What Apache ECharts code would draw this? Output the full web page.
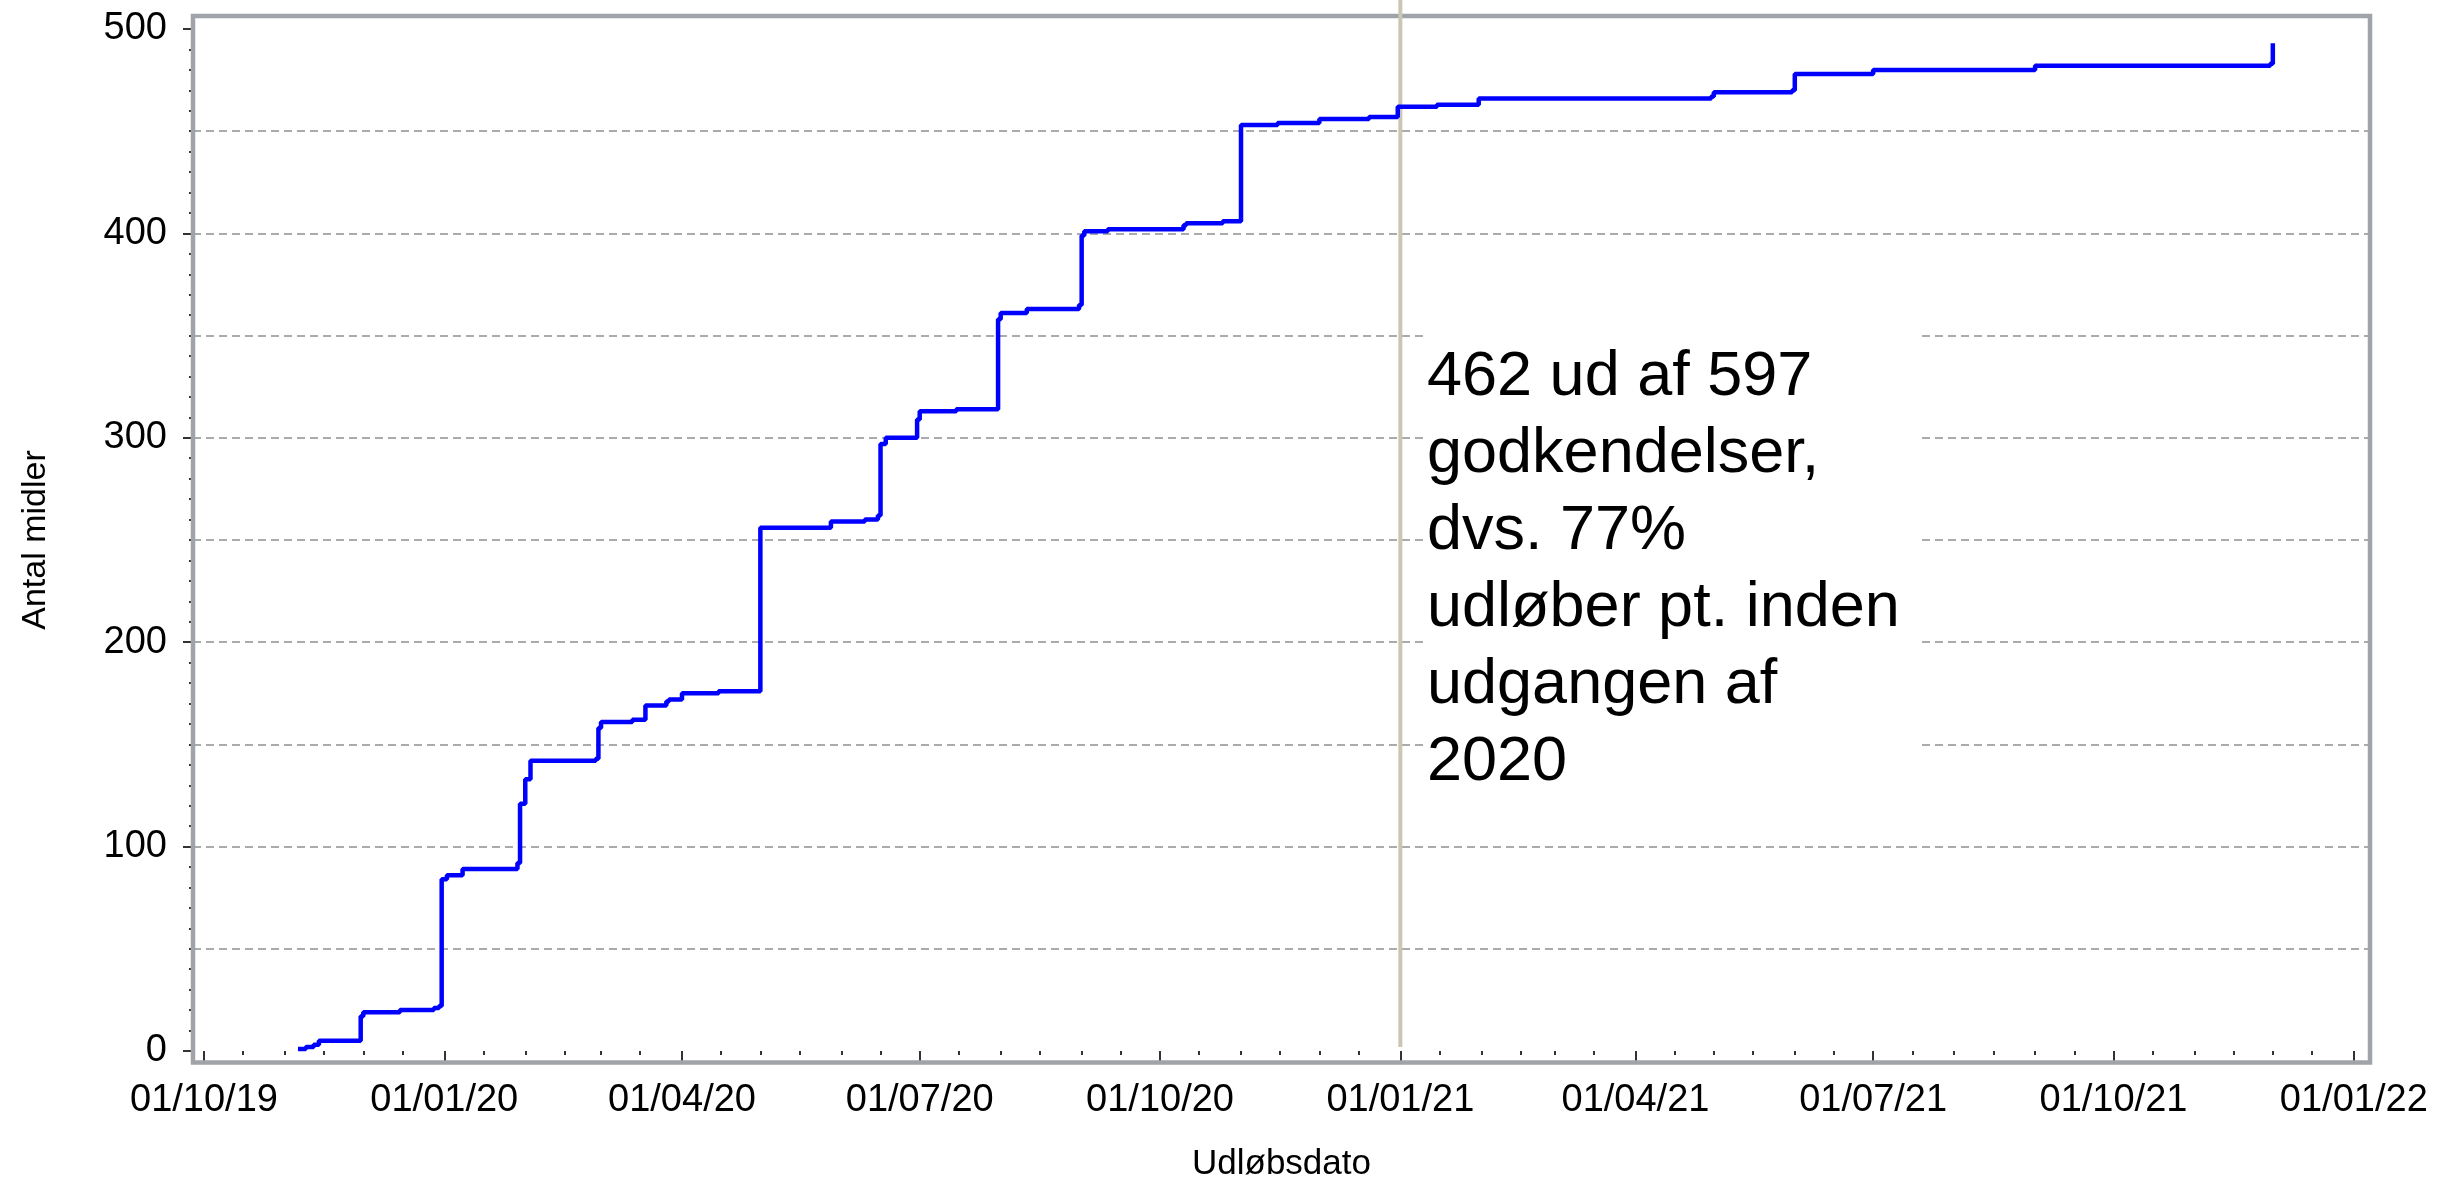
<!DOCTYPE html>
<html>
<head>
<meta charset="utf-8">
<script src="https://cdn.jsdelivr.net/npm/echarts@6/dist/echarts.min.js"></script>
<style>
html,body{margin:0;padding:0;background:#fff;}
#chart{width:2440px;height:1180px;}
</style>
</head>
<body>
<div id="chart"></div>
<script>
// ---- data ----
const expiryDates = [
  '2019-11-06','2019-11-09','2019-11-12','2019-11-14','2019-11-30','2019-12-01','2019-12-15','2019-12-28','2019-12-30','2019-12-31',
  '2020-01-02','2020-01-08','2020-01-29','2020-01-30','2020-02-01','2020-02-03','2020-02-28','2020-02-29','2020-03-01','2020-03-13',
  '2020-03-18','2020-03-26','2020-03-27','2020-04-01','2020-04-15','2020-05-01','2020-05-28','2020-06-10','2020-06-15','2020-06-16',
  '2020-06-18','2020-06-30','2020-07-01','2020-07-15','2020-07-31','2020-08-01','2020-08-11','2020-08-31','2020-09-01','2020-09-02',
  '2020-09-11','2020-10-10','2020-10-11','2020-10-25','2020-11-01','2020-11-15','2020-12-01','2020-12-20','2020-12-31','2021-01-15',
  '2021-01-31','2021-04-30','2021-05-01','2021-05-31','2021-06-01','2021-07-01','2021-09-01','2021-11-30','2021-12-01'
];
const cumulativeCount = [
  1,2,3,5,17,19,20,21,22,84,
  86,89,92,121,133,142,143,158,161,162,
  169,171,172,175,176,256,259,260,262,297,
  300,309,313,314,358,361,363,365,399,401,
  402,404,405,406,453,454,456,457,462,463,
  466,467,469,470,478,480,482,483,493
];
const xTickDates = ['2019-10-01','2020-01-01','2020-04-01','2020-07-01','2020-10-01','2021-01-01','2021-04-01','2021-07-01','2021-10-01','2022-01-01'];
const yTickValues = [0,100,200,300,400,500];
const refLineDate = '2021-01-01';
const refLineValues = [2, 520];
const annotationLines = ['462 ud af 597','godkendelser,','dvs. 77%','udløber pt. inden','udgangen af','2020'];
const xAxisTitle = 'Udløbsdato';
const yAxisTitle = 'Antal midler';

// ---- helpers ----
const DAY = 86400000;
function ts(s){ const p = s.split('-').map(Number); return Date.UTC(p[0], p[1]-1, p[2]); }
function pad(n){ return (n < 10 ? '0' : '') + n; }
function fmtDate(v){ const d = new Date(v); return pad(d.getUTCDate()) + '/' + pad(d.getUTCMonth()+1) + '/' + pad(d.getUTCFullYear() % 100); }

const majorTicks = xTickDates.map(ts);
const minorTicks = [];
for (let y = 2019; y <= 2022; y++) {
  for (let m = 0; m < 12; m++) {
    [1, 16].forEach(function(d){
      const t = Date.UTC(y, m, d);
      if (t >= ts('2019-10-01') && t <= ts('2022-01-01')) minorTicks.push(t);
    });
  }
}
const xMin = ts('2019-10-01') - 4.2 * DAY;
const xMax = ts('2019-10-01') + 829.2 * DAY;

const seriesData = expiryDates.map(function(d, i){ return [ts(d), cumulativeCount[i]]; });
const refData = refLineValues.map(function(v){ return [ts(refLineDate), v]; });

const FONT = '"Liberation Sans", Arial, Helvetica, sans-serif';

const chart = echarts.init(document.getElementById('chart'), null, {renderer: 'canvas'});
chart.setOption({
  animation: false,
  backgroundColor: '#ffffff',
  textStyle: {fontFamily: FONT},
  grid: {left: 193, right: 70, top: 29, bottom: 129, containLabel: false, outerBoundsMode: 'none'},
  xAxis: [
    {
      type: 'value', min: xMin, max: xMax, position: 'bottom', offset: 16,
      axisLine: {show: false},
      axisTick: {show: true, customValues: majorTicks, length: 10, lineStyle: {color: '#333', width: 2}},
      axisLabel: {show: true, customValues: majorTicks, formatter: fmtDate, fontSize: 38, lineHeight: 38, color: '#000', margin: 15, fontFamily: FONT},
      splitLine: {show: false},
      name: xAxisTitle, nameLocation: 'middle', nameGap: 80,
      nameTextStyle: {fontSize: 35, lineHeight: 35, color: '#000', fontFamily: FONT}
    },
    {
      type: 'value', min: xMin, max: xMax, position: 'bottom', offset: 16,
      axisLine: {show: false},
      axisTick: {show: true, customValues: minorTicks, length: 4, lineStyle: {color: '#333', width: 2}},
      axisLabel: {show: false},
      splitLine: {show: false}
    }
  ],
  yAxis: [
    {
      type: 'value', min: 0, max: 500, interval: 100, position: 'left',
      axisLine: {show: false},
      axisTick: {show: true, length: 10, lineStyle: {color: '#333', width: 2}},
      minorTick: {show: true, splitNumber: 10, length: 4, lineStyle: {color: '#333', width: 2}},
      axisLabel: {show: true, fontSize: 38, lineHeight: 38, color: '#000', margin: 26, fontFamily: FONT},
      splitLine: {show: false},
      name: yAxisTitle, nameLocation: 'middle', nameGap: 140, nameRotate: 90,
      nameTextStyle: {fontSize: 34, lineHeight: 34, color: '#000', fontFamily: FONT}
    },
    {
      type: 'value', min: 0, max: 500, interval: 50, position: 'left',
      axisLine: {show: false}, axisTick: {show: false}, axisLabel: {show: false},
      splitLine: {show: true, showMinLine: false, showMaxLine: false,
        lineStyle: {color: '#a9abad', width: 2, type: [8, 5]}}
    }
  ],
  series: [
    {
      name: yAxisTitle, type: 'line', xAxisIndex: 0, yAxisIndex: 0,
      data: seriesData, step: 'end', symbol: 'none', z: 4,
      lineStyle: {color: '#0000ff', width: 4.5}
    },
    {
      name: 'ref', type: 'line', xAxisIndex: 0, yAxisIndex: 0,
      data: refData, symbol: 'none', clip: false, silent: true, z: 3,
      lineStyle: {color: '#c9c6b3', width: 4}
    }
  ],
  graphic: [
    {
      type: 'rect', z: 1, silent: true,
      shape: {x: 193, y: 16, width: 2177, height: 1046.5},
      style: {fill: 'none', stroke: '#a0a4a8', lineWidth: 4.5}
    },
    {
      type: 'rect', z: 10, silent: true,
      shape: {x: 1427, y: 295, width: 495, height: 510},
      style: {fill: '#ffffff'}
    },
    {
      type: 'text', z: 11, silent: true, x: 1427, y: 339,
      style: {text: annotationLines.join('\n'), fontSize: 63, lineHeight: 77, fontFamily: FONT,
        fill: '#000', align: 'left', verticalAlign: 'top'}
    }
  ]
});
</script>
</body>
</html>
